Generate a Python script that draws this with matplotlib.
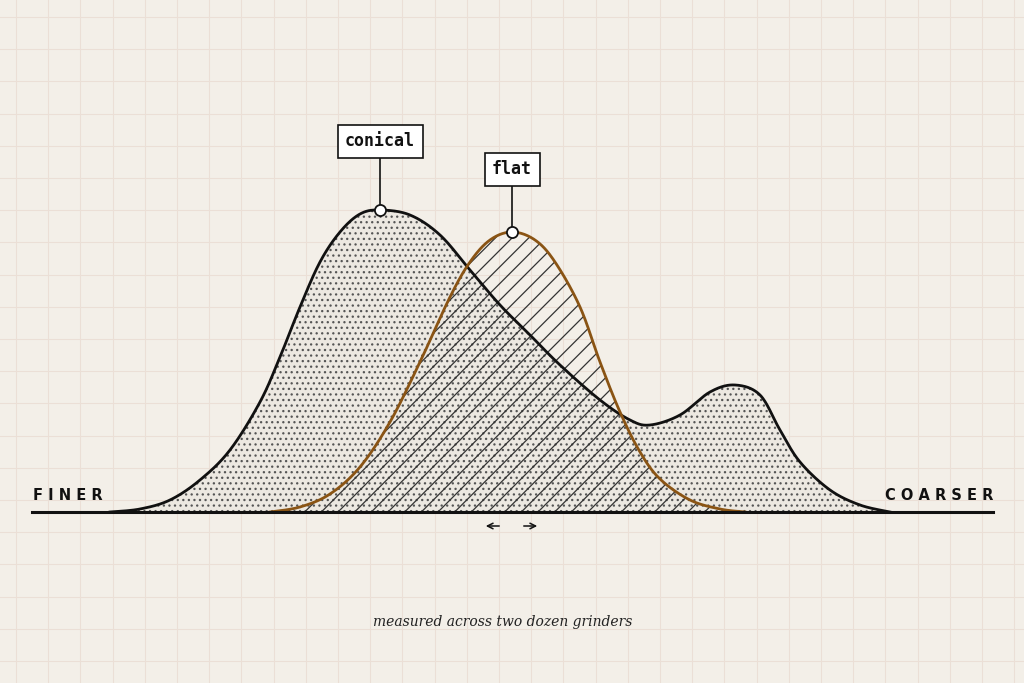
import matplotlib
matplotlib.use("Agg")
import matplotlib.pyplot as plt
import numpy as np

# grind size position (px-like units) and relative share (height above baseline)
conical_x = [110, 140, 170, 200, 230, 260, 280, 300, 320, 340, 360, 380, 410, 440, 470, 500, 530, 560, 600, 630, 650, 680, 710, 735, 760, 780, 800, 830, 860, 890]
conical_y = [0, 3, 12, 32, 62, 110, 155, 205, 250, 280, 298, 302, 297, 277, 242, 207, 177, 147, 112, 92, 87, 97, 120, 127, 117, 82, 50, 22, 7, 0]
flat_x = [270, 300, 330, 360, 390, 420, 450, 470, 490, 512, 535, 555, 580, 600, 620, 640, 660, 690, 720, 745]
flat_y = [0, 5, 18, 45, 90, 150, 215, 250, 272, 280, 272, 250, 205, 150, 100, 60, 33, 12, 3, 0]
labels = ["conical", "flat"]
peaks_x = [380, 512]

BASE = 512
BG = "#f3efe8"
GRID = "#ebdfd6"
BROWN = "#8a5414"
plt.rcParams["hatch.linewidth"] = 0.9

def catmull(xs, ys, n=30):
    P = np.column_stack([xs, ys]).astype(float)
    P = np.vstack([P[0], P, P[-1]])
    out = []
    t = np.linspace(0, 1, n, endpoint=False)[:, None]
    for i in range(1, len(P) - 2):
        p0, p1, p2, p3 = P[i-1], P[i], P[i+1], P[i+2]
        out.append(0.5 * ((2*p1) + (-p0 + p2)*t + (2*p0 - 5*p1 + 4*p2 - p3)*t**2 + (-p0 + 3*p1 - 3*p2 + p3)*t**3))
    out.append(P[-2][None, :])
    A = np.vstack(out)
    return A[:, 0], np.clip(A[:, 1], 0, None)

fig = plt.figure(figsize=(10.24, 6.83), dpi=100, facecolor=BG)
ax = fig.add_axes([0, 0, 1, 1])
ax.set_facecolor(BG)
ax.set_xlim(0, 1024); ax.set_ylim(683, 0)
ax.axis("off")

for g in np.arange(16, 1024, 32.2):
    ax.axvline(g, color=GRID, lw=0.8, zorder=0)
for g in np.arange(17, 683, 32.2):
    ax.axhline(g, color=GRID, lw=0.8, zorder=0)

cx, cy = catmull(conical_x, conical_y)
fx, fy = catmull(flat_x, flat_y)

ax.fill_between(cx, BASE, BASE - cy, facecolor="#ece8e1", edgecolor="#555555", hatch="...", lw=0, zorder=2)
ax.plot(cx, BASE - cy, color="#111111", lw=2.0, zorder=4)
ax.fill_between(fx, BASE, BASE - fy, facecolor="none", edgecolor="#333333", hatch="//", lw=0, zorder=3)
ax.plot(fx, BASE - fy, color=BROWN, lw=2.0, zorder=5)

ax.plot([32, 993], [BASE, BASE], color="#111111", lw=2.2, zorder=6)

for lab, px, xs, ys, by in zip(labels, peaks_x, [cx, fx], [cy, fy], [141, 169]):
    py = BASE - np.interp(px, xs, ys)
    ax.plot([px, px], [by + 14, py], color="#111111", lw=1.2, zorder=6)
    ax.plot(px, py, "o", ms=8, mfc="white", mec="#111111", mew=1.3, zorder=7)
    ax.text(px, by, lab, ha="center", va="center", fontsize=12, fontweight="bold",
            family="DejaVu Sans Mono", color="#111111", zorder=8,
            bbox=dict(boxstyle="square,pad=0.45", fc="white", ec="#111111", lw=1.2))

ax.text(33, 496, "F I N E R", ha="left", va="center", fontsize=10.5, fontweight="bold", color="#111111", family="DejaVu Sans")
ax.text(993, 496, "C O A R S E R", ha="right", va="center", fontsize=10.5, fontweight="bold", color="#111111", family="DejaVu Sans")

ax.annotate("", xy=(483, 526), xytext=(502, 526), arrowprops=dict(arrowstyle="->", color="#111111", lw=1.1))
ax.annotate("", xy=(540, 526), xytext=(521, 526), arrowprops=dict(arrowstyle="->", color="#111111", lw=1.1))

ax.text(503, 622, "measured across two dozen grinders", ha="center", va="center", fontsize=10,
        style="italic", family="DejaVu Serif", color="#222222")

fig.savefig("out.png", dpi=100, facecolor=BG)
